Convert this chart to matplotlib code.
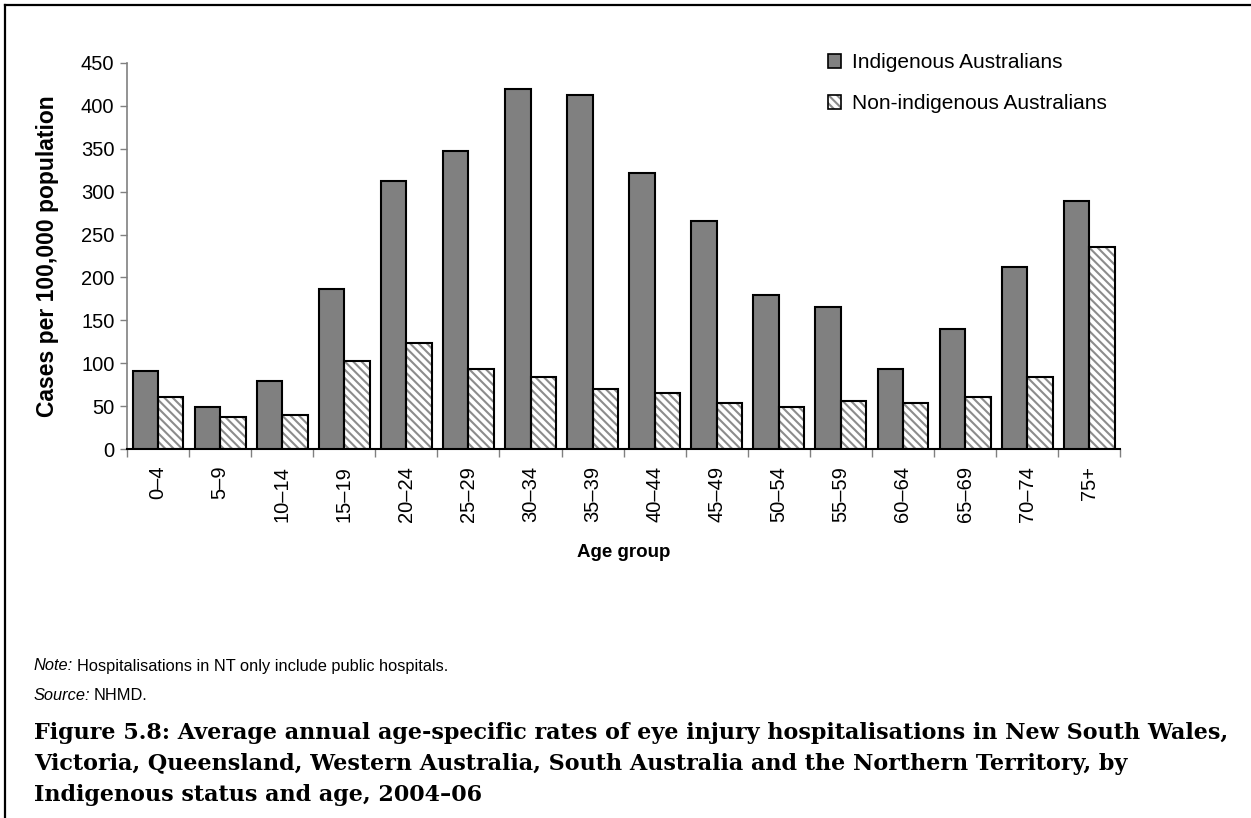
import numpy as np
import matplotlib
matplotlib.use("Agg")
import matplotlib.pyplot as plt
from matplotlib.patches import Patch
from matplotlib.lines import Line2D
from matplotlib.legend_handler import HandlerTuple

# age-specific rates, cases per 100,000 population
age_groups = ["0–4", "5–9", "10–14", "15–19", "20–24", "25–29", "30–34", "35–39",
              "40–44", "45–49", "50–54", "55–59", "60–64", "65–69", "70–74", "75+"]
indigenous = [91, 49, 79, 187, 312, 348, 420, 413, 322, 266, 180, 166, 93, 140, 212, 289]
non_indigenous = [61, 37, 40, 103, 124, 93, 84, 70, 65, 54, 49, 56, 54, 61, 84, 236]

yticks = [0, 50, 100, 150, 200, 250, 300, 350, 400, 450]

plt.rcParams['font.family'] = ['Liberation Sans', 'DejaVu Sans']
plt.rcParams['hatch.linewidth'] = 1.5

fig = plt.figure(figsize=(12.51, 8.18), dpi=100)
ax = fig.add_axes([0.1015, 0.451, 0.794, 0.472])

x = np.arange(len(age_groups))
w = 0.41
grey = "#808080"
stripe = "#8c8c8c"
hatch = "\\\\\\\\"

ax.bar(x - w / 2, indigenous, w, color=grey, edgecolor="black", linewidth=1.5, zorder=3)
# striped fill first, then a black outline over it
ax.bar(x + w / 2, non_indigenous, w, color="white", edgecolor=stripe, hatch=hatch,
       linewidth=0, zorder=2)
ax.bar(x + w / 2, non_indigenous, w, fill=False, edgecolor="black", linewidth=1.5, zorder=3)

ax.set_xlim(-0.5, len(age_groups) - 0.5)
ax.set_ylim(0, 450)
ax.set_yticks(yticks)
ax.tick_params(axis="y", labelsize=14.5, length=5, width=1, color=grey, pad=4)

ax.set_xticks(x)
ax.set_xticklabels(age_groups, rotation=90, fontsize=14.5)
ax.set_xticks(np.arange(len(age_groups) + 1) - 0.5, minor=True)
ax.tick_params(axis="x", which="major", length=0, pad=12)
ax.tick_params(axis="x", which="minor", length=6, width=1, color=grey)

for s in ["top", "right"]:
    ax.spines[s].set_visible(False)
ax.spines["left"].set_color(grey)
ax.spines["left"].set_linewidth(1.2)
ax.spines["bottom"].set_color("black")
ax.spines["bottom"].set_linewidth(1.5)

ax.set_ylabel("Cases per 100,000 population", fontsize=16.5, fontweight="bold", labelpad=16)
ax.set_xlabel("Age group", fontsize=13.5, fontweight="bold", labelpad=16)

# legend
h1 = Patch(facecolor=grey, edgecolor="black", linewidth=1.2)
h2a = Patch(facecolor="white", edgecolor=stripe, hatch=hatch, linewidth=0)
h2b = Patch(fill=False, edgecolor="black", linewidth=1.2)
fig.legend([h1, (h2a, h2b)], ["Indigenous Australians", "Non-indigenous Australians"],
           handler_map={tuple: HandlerTuple(ndivide=1, pad=0)},
           loc="upper left", bbox_to_anchor=(0.655, 0.945), frameon=False,
           fontsize=15, handlelength=0.65, handleheight=0.65, handletextpad=0.5,
           labelspacing=1.05, borderaxespad=0)

# note and source lines: italic lead-in followed by plain text
left = 0.027
note_y = 1 - 666 / 818
src_y = 1 - 695 / 818
for y, lead, rest in [(note_y, "Note:", "Hospitalisations in NT only include public hospitals."),
                      (src_y, "Source:", "NHMD.")]:
    t = fig.text(left, y, lead, fontsize=11.8, style="italic", va="center")
    fig.canvas.draw()
    bb = t.get_window_extent()
    fig.text(bb.x1 / fig.bbox.width + 0.003, y, rest, fontsize=11.8, va="center")

caption = ["Figure 5.8: Average annual age-specific rates of eye injury hospitalisations in New South Wales,",
           "Victoria, Queensland, Western Australia, South Australia and the Northern Territory, by",
           "Indigenous status and age, 2004–06"]
for i, line in enumerate(caption):
    fig.text(left, 1 - (733 + 31 * i) / 818, line, fontsize=16, fontweight="bold",
             family="DejaVu Serif", va="center")

# frame: top and left edges
fig.add_artist(Line2D([5 / 1251, 5 / 1251], [0, 1 - 5 / 818], transform=fig.transFigure,
                      color="black", linewidth=1.6))
fig.add_artist(Line2D([5 / 1251, 1], [1 - 5 / 818, 1 - 5 / 818], transform=fig.transFigure,
                      color="black", linewidth=1.6))

fig.savefig("out.png", dpi=100)
